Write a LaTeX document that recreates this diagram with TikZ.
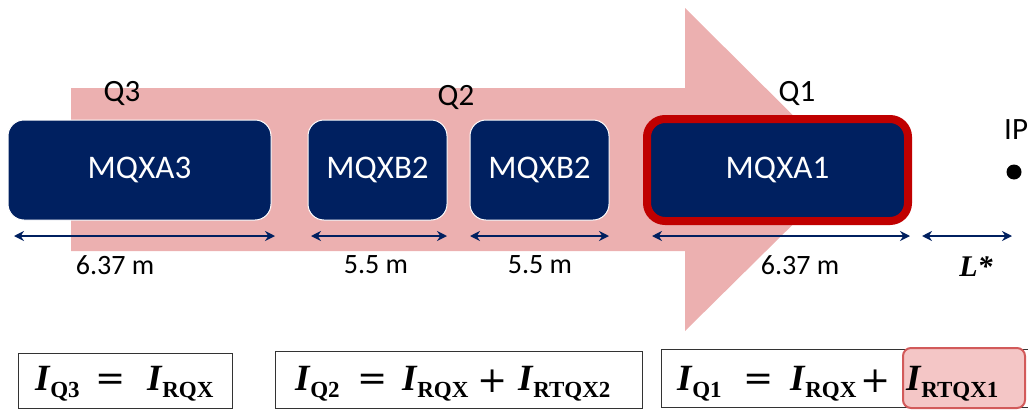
\documentclass[tikz,border=0pt]{standalone}
\usepackage{fontspec}
\setmainfont{Carlito}
\newfontfamily\eqfont{Liberation Serif}
\newfontfamily\opfont{DejaVu Serif}
\usetikzlibrary{arrows.meta}
\definecolor{navy}{RGB}{0,32,96}
\definecolor{arrowpink}{RGB}{236,176,176}
\definecolor{qred}{RGB}{192,0,0}
\definecolor{hlfill}{RGB}{244,198,198}
\definecolor{hlborder}{RGB}{210,90,90}
\newcommand\Isub[1]{{\bfseries\itshape I}\kern0.02em\raisebox{-0.19em}{\fontsize{23}{25}\selectfont\bfseries #1}}
\tikzset{
  magnet/.style={fill=navy, draw=white, line width=1pt, rounded corners=16pt, text=white,
    font=\fontsize{33}{36}\selectfont, inner sep=0pt, minimum height=100pt},
  dimarrow/.style={draw=navy, line width=2.5pt, {Stealth[length=10pt,width=10pt]}-{Stealth[length=10pt,width=10pt]}},
  dimlabel/.style={font=\fontsize{28}{32}\selectfont, inner sep=0pt},
  qlabel/.style={font=\fontsize{31}{34}\selectfont, inner sep=0pt},
  eqbox/.style={draw=black!80, line width=1pt, fill=white, inner sep=0pt},
  eqterm/.style={font=\eqfont\fontsize{37}{40}\selectfont, inner sep=0pt, anchor=base west},
  eqop/.style={font=\opfont\fontsize{36}{40}\selectfont, inner sep=0pt, anchor=center},
}
\begin{document}
\begin{tikzpicture}[x=1pt,y=-1pt]
\useasboundingbox (0,0) rectangle (1028,410);
% big arrow
\fill[arrowpink] (71,88) -- (685,88) -- (685,8) -- (848,170) -- (685,331) -- (685,251) -- (71,251) -- cycle;
% magnets
\node[magnet, minimum width=263pt] (a3) at (139.5,170) {MQXA3};
\node[magnet, minimum width=139pt] (b2a) at (377.5,170) {MQXB2};
\node[magnet, minimum width=139pt] (b2b) at (539.5,170) {MQXB2};
\node[magnet, draw=qred, line width=8pt, minimum width=261pt, minimum height=102pt, rounded corners=18pt] (a1) at (777.5,170) {MQXA1};
% labels
\node[qlabel] (q3) at (122,93) {Q3};
\node[qlabel] (q2) at (456,97) {Q2};
\node[qlabel] (q1) at (797,93) {Q1};
\node[qlabel, anchor=west] (ip) at (1004,130) {IP};
\fill (1014,172) circle (7.5pt) coordinate (ipdot);
% dimension arrows
\coordinate (d1l) at (14,236); \coordinate (d1r) at (275,236);
\coordinate (d2l) at (311,236); \coordinate (d2r) at (447,236);
\coordinate (d3l) at (470,236); \coordinate (d3r) at (609,236);
\coordinate (d4l) at (652,236); \coordinate (d4r) at (910,236);
\coordinate (d5l) at (922,236); \coordinate (d5r) at (1012,236);
\draw[dimarrow] (d1l) -- (d1r);
\draw[dimarrow] (d2l) -- (d2r);
\draw[dimarrow] (d3l) -- (d3r);
\draw[dimarrow] (d4l) -- (d4r);
\draw[dimarrow] (d5l) -- (d5r);
\node[dimlabel] (l1) at (115,265) {6.37 m};
\node[dimlabel] (l2) at (376,265) {5.5 m};
\node[dimlabel] (l3) at (540,265) {5.5 m};
\node[dimlabel] (l4) at (800,265) {6.37 m};
\node[font=\eqfont\bfseries\itshape\fontsize{30}{32}\selectfont, inner sep=0pt] (lstar) at (976,267) {L*};
% equation boxes
\node[eqbox, minimum width=214pt, minimum height=55pt] (e1box) at (125,380.5) {};
\node[eqbox, minimum width=367pt, minimum height=57pt] (e2box) at (458.5,379.5) {};
\node[eqbox, minimum width=372pt, minimum height=58pt] (e3box) at (847,378) {};
\node[draw=hlborder, line width=2pt, fill=hlfill, rounded corners=8pt, minimum width=122pt, minimum height=60pt, inner sep=0pt] (hl) at (964,378) {};
% equation 1
\node[eqterm] (e1a) at (35,390) {\Isub{Q3}};
\node[eqop] (e1eq) at (111,382) {=};
\node[eqterm] (e1b) at (147,390) {\Isub{RQX}};
% equation 2
\node[eqterm] (e2a) at (295,390) {\Isub{Q2}};
\node[eqop] (e2eq) at (373,382) {=};
\node[eqterm] (e2b) at (402,390) {\Isub{RQX}};
\node[eqop] (e2pl) at (493,381) {+};
\node[eqterm] (e2c) at (518,390) {\Isub{RTQX2}};
% equation 3
\node[eqterm] (e3a) at (677,390) {\Isub{Q1}};
\node[eqop] (e3eq) at (759,382) {=};
\node[eqterm] (e3b) at (790,390) {\Isub{RQX}};
\node[eqop] (e3pl) at (876,381) {+};
\node[eqterm] (e3c) at (906,390) {\Isub{RTQX1}};
\end{tikzpicture}
\end{document}
